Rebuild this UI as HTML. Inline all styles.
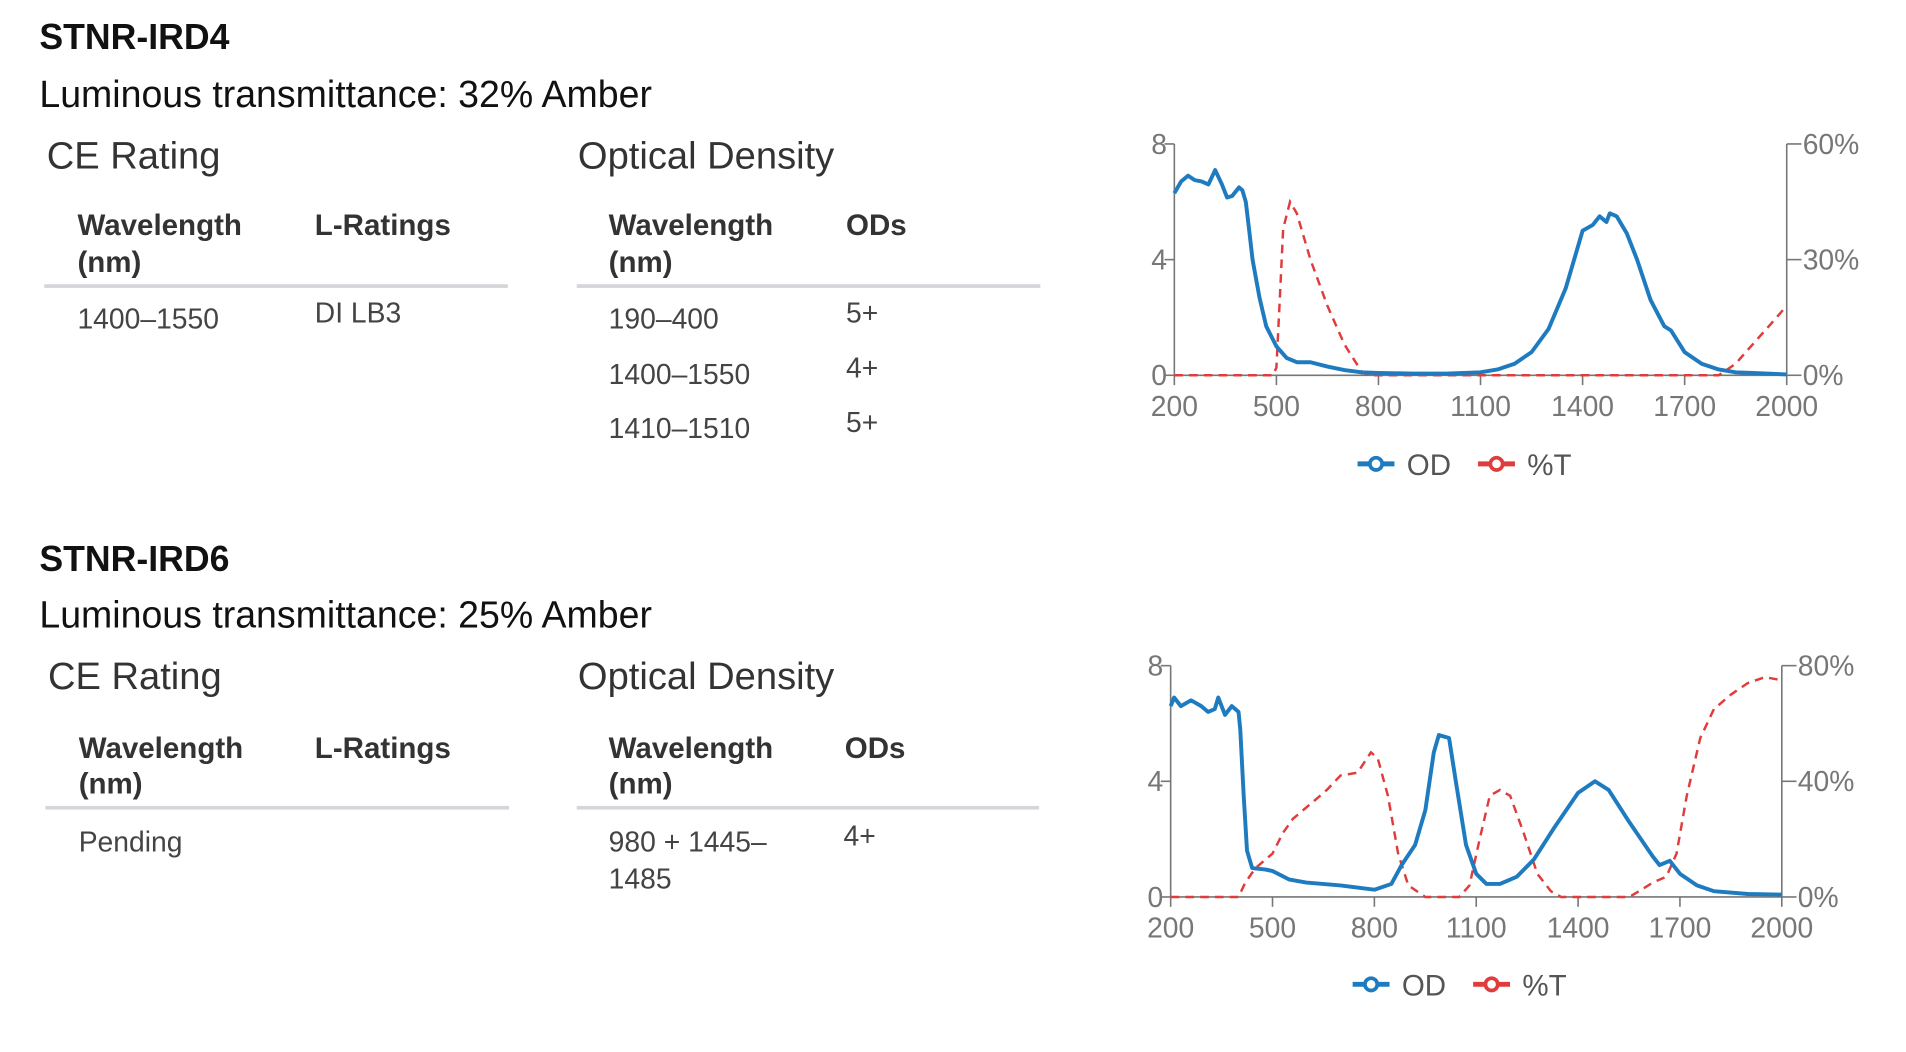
<!DOCTYPE html>
<html><head><meta charset="utf-8"><style>
html,body{margin:0;padding:0;background:#fff;width:1906px;height:1052px;overflow:hidden}
svg{display:block}
.h{font-family:"Liberation Sans",sans-serif;font-weight:bold;font-size:29px;fill:#111}
.lum{font-family:"Liberation Sans",sans-serif;font-size:30.5px;fill:#111}
.sec{font-family:"Liberation Sans",sans-serif;font-size:31px;fill:#333}
.th{font-family:"Liberation Sans",sans-serif;font-weight:bold;font-size:24px;fill:#333}
.td{font-family:"Liberation Sans",sans-serif;font-size:23px;fill:#444}
.ax{font-family:"Liberation Sans",sans-serif;font-size:23px;fill:#777}
.lg{font-family:"Liberation Sans",sans-serif;font-size:24px;fill:#555}
</style></head><body>
<svg id="root" width="1906" height="1052" viewBox="0 0 1550 855" preserveAspectRatio="none">
<g>
<text class="h" x="32" y="40">STNR-IRD4</text>
<text class="lum" x="32" y="87">Luminous transmittance: 32% Amber</text>
<text class="sec" x="38" y="137">CE Rating</text>
<text class="sec" x="470" y="137">Optical Density</text>
<text class="th" x="63" y="191">Wavelength</text>
<text class="th" x="63" y="221">(nm)</text>
<text class="th" x="256" y="191">L-Ratings</text>
<rect x="36" y="231" width="377" height="3" fill="#d4d6d9"/>
<text class="th" x="495" y="191">Wavelength</text>
<text class="th" x="495" y="221">(nm)</text>
<text class="th" x="688" y="191">ODs</text>
<rect x="469" y="231" width="377" height="3" fill="#d4d6d9"/>
<text class="td" x="63" y="267">1400–1550</text>
<text class="td" x="256" y="262">DI LB3</text>
<text class="td" x="495" y="267">190–400</text>
<text class="td" x="688" y="262">5+</text>
<text class="td" x="495" y="312">1400–1550</text>
<text class="td" x="688" y="307">4+</text>
<text class="td" x="495" y="356">1410–1510</text>
<text class="td" x="688" y="351">5+</text>
</g>
<g>
<text class="h" x="32" y="464">STNR-IRD6</text>
<text class="lum" x="32" y="510">Luminous transmittance: 25% Amber</text>
<text class="sec" x="39" y="560">CE Rating</text>
<text class="sec" x="470" y="560">Optical Density</text>
<text class="th" x="64" y="616">Wavelength</text>
<text class="th" x="64" y="645">(nm)</text>
<text class="th" x="256" y="616">L-Ratings</text>
<rect x="37" y="655" width="377" height="3" fill="#d4d6d9"/>
<text class="th" x="495" y="616">Wavelength</text>
<text class="th" x="495" y="645">(nm)</text>
<text class="th" x="687" y="616">ODs</text>
<rect x="469" y="655" width="376" height="3" fill="#d4d6d9"/>
<text class="td" x="64" y="692">Pending</text>
<text class="td" x="495" y="692">980 + 1445–</text>
<text class="td" x="495" y="722">1485</text>
<text class="td" x="686" y="687">4+</text>
</g>
<g id="chart1"></g>
<g id="chart2"></g>
</svg>
<script>
const xTicks = [200, 500, 800, 1100, 1400, 1700, 2000];
const odTicks = [0, 4, 8];
const t1Ticks = [0, 30, 60];
const t2Ticks = [0, 40, 80];
const od1W = [200,220,240,260,280,300,320,340,355,370,390,400,410,420,430,450,470,500,530,560,600,650,700,750,800,900,1000,1100,1150,1200,1250,1300,1350,1380,1400,1430,1450,1470,1480,1500,1530,1560,1600,1640,1660,1700,1750,1800,1850,1900,2000];
const od1V = [6.3,6.7,6.9,6.75,6.7,6.6,7.1,6.6,6.15,6.2,6.5,6.4,6.0,5.0,4.0,2.7,1.7,1.0,0.6,0.45,0.45,0.3,0.18,0.1,0.08,0.06,0.06,0.1,0.2,0.4,0.8,1.6,3.0,4.2,5.0,5.2,5.5,5.3,5.6,5.5,4.9,4.0,2.6,1.7,1.55,0.8,0.4,0.2,0.1,0.08,0.03];
const t1W = [200,490,500,510,520,540,560,600,650,700,750,770,1800,1850,1900,1950,2000];
const t1V = [0,0,2,20,38,45,42,30,18,8,1,0,0,3,8,13,18];
const od2W = [200,210,230,260,290,310,330,340,360,380,400,405,415,425,440,480,500,550,600,700,800,850,880,920,950,975,990,1020,1040,1070,1100,1130,1170,1220,1270,1330,1400,1450,1490,1550,1620,1640,1670,1700,1750,1800,1900,2000];
const od2V = [6.6,6.9,6.6,6.8,6.6,6.4,6.5,6.9,6.3,6.6,6.4,5.8,3.5,1.6,1.0,0.95,0.9,0.6,0.5,0.4,0.25,0.45,1.1,1.8,3.0,5.0,5.6,5.5,4.0,1.8,0.8,0.45,0.45,0.7,1.3,2.4,3.6,4.0,3.7,2.6,1.4,1.1,1.25,0.8,0.4,0.2,0.1,0.08];
const t2W = [200,400,420,450,500,530,560,590,620,660,700,750,790,810,840,870,900,950,1050,1080,1110,1140,1170,1200,1240,1280,1320,1350,1550,1580,1620,1660,1690,1720,1760,1800,1850,1900,1950,2000];
const t2V = [0,0,5,10,15,22,27,30,33,37,42,43,50,48,35,15,4,0,0,4,20,35,37,35,22,8,2,0,0,2,5,7,15,35,55,65,70,74,76,75];

const NS = 'http://www.w3.org/2000/svg';
function mk(tag, attrs, parent){const e=document.createElementNS(NS,tag);for(const k in attrs)e.setAttribute(k,attrs[k]);parent.appendChild(e);return e;}

function drawChart(g, cfg){
  const {x0,x1,yTop,yZero,odW,odV,tW,tV,tTicks,tMax,legY,legX} = cfg;
  const sx = w => x0 + (w-200)/(2000-200)*(x1-x0);
  const syOd = v => yZero - v/8*(yZero-yTop);
  const syT = v => yZero - v/tMax*(yZero-yTop);
  const axis = mk('path',{d:`M${x0} ${yTop} V${yZero} H${x1} V${yTop}`,fill:'none',stroke:'#777','stroke-width':1.3},g);
  
  
  odTicks.forEach(v=>{
    const y=syOd(v);
    const tk=mk('line',{x1:x0-8,x2:x0,y1:y,y2:y,stroke:'#777','stroke-width':1.3},g);
    
    
    const t=mk('text',{x:x0-6,y:y+8,'text-anchor':'end',class:'ax'},g);
    t.textContent=v;
    
    
  });
  tTicks.forEach(v=>{
    const y=syT(v);
    const tk=mk('line',{x1:x1,x2:x1+12,y1:y,y2:y,stroke:'#777','stroke-width':1.3},g);
    
    
    const t=mk('text',{x:x1+13,y:y+8,class:'ax'},g);
    t.textContent=v+'%';
    
    
  });
  xTicks.forEach(v=>{
    const x=sx(v);
    const tk=mk('line',{x1:x,x2:x,y1:yZero,y2:yZero+8,stroke:'#777','stroke-width':1.3},g);
    
    
    const t=mk('text',{x:x,y:yZero+33,'text-anchor':'middle',class:'ax'},g);
    t.textContent=v;
    
    
  });
  const tp = mk('path',{d:tW.map((w,i)=>(i?'L':'M')+sx(w).toFixed(1)+' '+syT(tV[i]).toFixed(1)).join(' '),fill:'none',stroke:'#e03c3c','stroke-width':2,'stroke-dasharray':'7 5'},g);
  
  
  const op = mk('path',{d:odW.map((w,i)=>(i?'L':'M')+sx(w).toFixed(1)+' '+syOd(odV[i]).toFixed(1)).join(' '),fill:'none',stroke:'#1f7bbf','stroke-width':3.2,'stroke-linejoin':'round'},g);
  
  
  const items=[['OD','#1f7bbf',legX],['%T','#e03c3c',legX+98]];
  items.forEach(([lab,col,lx])=>{
    const lg=mk('g',{},g);
    
    
    mk('line',{x1:lx,x2:lx+30,y1:legY,y2:legY,stroke:col,'stroke-width':4},lg);
    mk('circle',{cx:lx+15,cy:legY,r:5,fill:'#fff',stroke:col,'stroke-width':3},lg);
    const t=mk('text',{x:lx+40,y:legY+9,class:'lg'},lg);
    t.textContent=lab;
  });
}
drawChart(document.getElementById('chart1'),{x0:955,x1:1453,yTop:117,yZero:305,odW:od1W,odV:od1V,tW:t1W,tV:t1V,tTicks:t1Ticks,tMax:60,legY:377,legX:1104});
drawChart(document.getElementById('chart2'),{x0:952,x1:1449,yTop:541,yZero:729,odW:od2W,odV:od2V,tW:t2W,tV:t2V,tTicks:t2Ticks,tMax:80,legY:800,legX:1100});
</script>
</body></html>
